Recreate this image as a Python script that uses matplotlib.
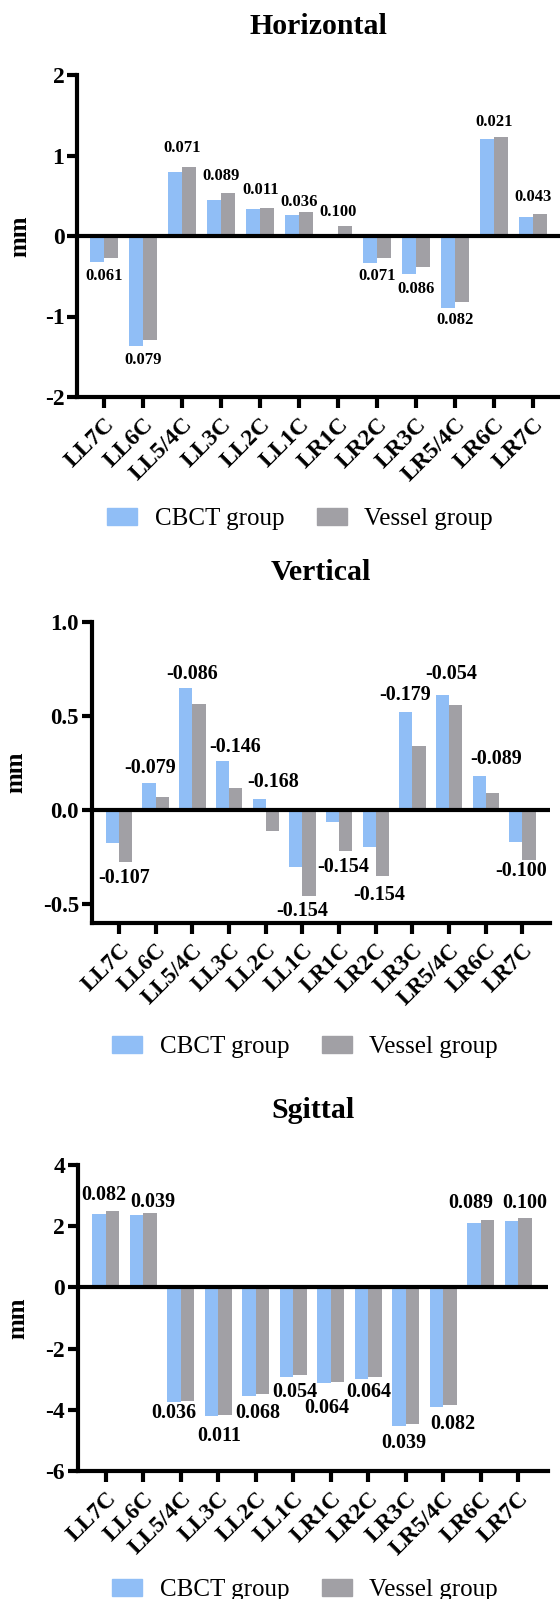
import matplotlib
matplotlib.use("Agg")
import matplotlib.pyplot as plt
import numpy as np
from matplotlib.patches import Patch

plt.rcParams['font.family'] = ['Liberation Serif', 'DejaVu Serif']
plt.rcParams['axes.unicode_minus'] = False

sites = ['LL7C', 'LL6C', 'LL5/4C', 'LL3C', 'LL2C', 'LL1C',
         'LR1C', 'LR2C', 'LR3C', 'LR5/4C', 'LR6C', 'LR7C']

# Horizontal
hor_cbct = [-0.32, -1.37, 0.79, 0.45, 0.34, 0.26, 0.01, -0.34, -0.47, -0.90, 1.20, 0.23]
hor_vessel = [-0.27, -1.29, 0.86, 0.54, 0.35, 0.30, 0.12, -0.27, -0.39, -0.82, 1.23, 0.27]
hor_p = ['0.061', '0.079', '0.071', '0.089', '0.011', '0.036',
         '0.100', '0.071', '0.086', '0.082', '0.021', '0.043']

# Vertical
ver_cbct = [-0.174, 0.146, 0.647, 0.263, 0.057, -0.304, -0.064, -0.195, 0.522, 0.612, 0.179, -0.167]
ver_vessel = [-0.278, 0.070, 0.562, 0.117, -0.110, -0.456, -0.219, -0.348, 0.343, 0.557, 0.090, -0.264]
ver_p = ['-0.107', '-0.079', '-0.086', '-0.146', '-0.168', '-0.154',
         '-0.154', '-0.154', '-0.179', '-0.054', '-0.089', '-0.100']

# Sagittal
sag_cbct = [2.41, 2.38, -3.73, -4.20, -3.56, -2.92, -3.13, -2.98, -4.52, -3.91, 2.11, 2.17]
sag_vessel = [2.49, 2.42, -3.70, -4.18, -3.48, -2.87, -3.09, -2.93, -4.48, -3.84, 2.21, 2.27]
sag_p = ['0.082', '0.039', '0.036', '0.011', '0.068', '0.054',
         '0.064', '0.064', '0.039', '0.082', '0.089', '0.100']

# label nudges in pixels (dx, distance from bar end)
hor_dx = [0] * 12
hor_dy = [14, 14, 19, 17, 18, 10, 14, 13, 15, 12, 15, 17]
ver_dx = [5, -6, 0, 6, 7, 0, 4, 3, -7, 2, 10, -1]
ver_dy = [16, 15, 14, 14, 17, 15, 16, 19, 17, 21, 17, 11]
sag_dx = [-2, 10, -7, 1, 2, 2, -4, 1, -2, 10, -10, 7]
sag_dy = [16, 11, 11, 20, 17, 15, 25, 13, 17, 17, 17, 15]

BLUE = '#90BEF6'
GREY = '#A1A0A5'

W, H = 560, 1599
fig = plt.figure(figsize=(W / 100, H / 100), dpi=100)


def rect(left, right, top, bottom):
    return [left / W, 1 - bottom / H, (right - left) / W, (bottom - top) / H]


def panel(box, title, cbct, vessel, pvals, dxs, dys, ylim, yticks, yfmt, xlim,
          tick_fs, lab_fs, title_y, legend_xy, ylab_x):
    ax = fig.add_axes(rect(*box))
    x = np.arange(len(sites))
    w = 0.36
    ax.bar(x - w / 2, cbct, w, color=BLUE, zorder=2)
    ax.bar(x + w / 2, vessel, w, color=GREY, zorder=2)
    ax.axhline(0, color='black', lw=3, zorder=3)
    for i in range(len(sites)):
        if cbct[i] >= 0:
            y = max(cbct[i], vessel[i])
            off = dys[i]
        else:
            y = min(cbct[i], vessel[i])
            off = -dys[i]
        ax.annotate(pvals[i], (x[i], y), xytext=(dxs[i] * 0.72, off * 0.72),
                    textcoords='offset points', ha='center', va='center',
                    fontsize=lab_fs, fontweight='bold')
    ax.set_xlim(*xlim)
    ax.set_ylim(*ylim)
    ax.set_yticks(yticks)
    ax.set_yticklabels([yfmt.format(v) for v in yticks], fontsize=tick_fs, fontweight='bold')
    ax.set_xticks(x)
    ax.set_xticklabels(sites, rotation=45, ha='right', rotation_mode='anchor',
                       fontsize=tick_fs, fontweight='bold')
    for s in ['top', 'right']:
        ax.spines[s].set_visible(False)
    for s in ['left', 'bottom']:
        ax.spines[s].set_linewidth(3)
    ax.tick_params(axis='y', length=7, width=3, pad=2)
    ax.tick_params(axis='x', length=8, width=3, pad=4)
    ax.set_ylabel('mm', fontsize=18, fontweight='bold', va='center')
    ax.yaxis.set_label_coords((ylab_x - box[0]) / (box[1] - box[0]), 0.5)
    cx = (box[0] + box[1]) / 2
    fig.text(cx / W, 1 - title_y / H, title, ha='center', va='center',
             fontsize=21.5, fontweight='bold')
    handles = [Patch(color=BLUE, label='CBCT group'), Patch(color=GREY, label='Vessel group')]
    fig.legend(handles=handles, loc='center', ncol=2, frameon=False,
               bbox_to_anchor=(legend_xy[0] / W, 1 - legend_xy[1] / H),
               fontsize=18, handlelength=1.2, handleheight=0.7,
               handletextpad=0.7, columnspacing=1.3)
    return ax


panel((77, 560.5, 75, 397), 'Horizontal', hor_cbct, hor_vessel, hor_p, hor_dx, hor_dy,
      (-2, 2), [-2, -1, 0, 1, 2], '{:g}', (-0.7, 11.7), 17, 12, 27, (300, 519), 19.6)
panel((91.5, 550, 622, 923), 'Vertical', ver_cbct, ver_vessel, ver_p, ver_dx, ver_dy,
      (-0.6, 1.0), [-0.5, 0.0, 0.5, 1.0], '{:.1f}', (-0.75, 11.75), 16.5, 14.5, 573, (305, 1047), 16)
panel((77.5, 548, 1165, 1471), 'Sgittal', sag_cbct, sag_vessel, sag_p, sag_dx, sag_dy,
      (-6, 4), [-6, -4, -2, 0, 2, 4], '{:g}', (-0.75, 11.8), 17, 14.5, 1110, (305, 1590), 18)

fig.savefig('out.png', dpi=100)
